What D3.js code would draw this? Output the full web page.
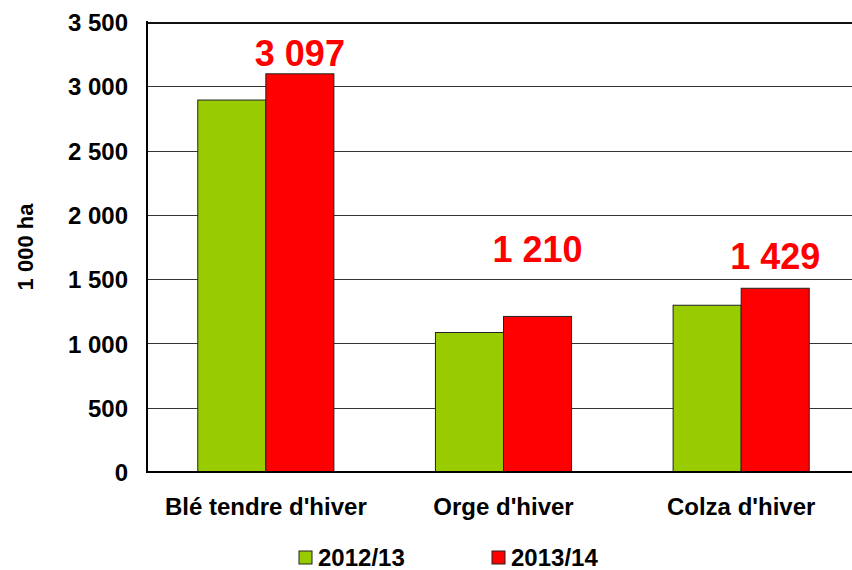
<!DOCTYPE html>
<html>
<head>
<meta charset="utf-8">
<title>Surfaces 2012/13 - 2013/14</title>
<script src="https://d3js.org/d3.v7.min.js"></script>
<style>
    body { margin: 0; background: #fff; }
    svg { font-family: Arial, "Liberation Sans", sans-serif; font-weight: bold; }
    .grid line { stroke: #333; stroke-width: 1; shape-rendering: crispEdges; }
    .bar { stroke: #222; stroke-width: 1; }
</style>
</head>
<body>
<script>
    // data
    var categories = ["Blé tendre d'hiver", "Orge d'hiver", "Colza d'hiver"];
    var seriesNames = ["2012/13", "2013/14"];
    var values2012 = [2893, 1085, 1297];
    var values2013 = [3097, 1210, 1429];
    var yTicks = [0, 500, 1000, 1500, 2000, 2500, 3000, 3500];
    var seriesColors = ["#99CC00", "#FF0000"];
    // how far (px) each value label sits above its bar, as placed in the original
    var labelLift = [8, 54, 19];

    var W = 852, H = 570;
    var margin = { top: 22, left: 147 };
    var plotRight = 860, plotBottom = 472;

    var fr = d3.formatLocale({ decimal: ",", thousands: " ", grouping: [3], currency: ["", " €"] });
    var fmt = fr.format(",d");

    var svg = d3.select("body").append("svg")
        .attr("width", W)
        .attr("height", H);

    var y = d3.scaleLinear().domain([0, 3500]).range([plotBottom, margin.top]);
    var x0 = d3.scaleBand().domain(categories).range([margin.left, plotRight]).padding(0);
    var x1 = d3.scaleBand().domain(seriesNames).range([0, x0.bandwidth()])
        .paddingInner(0).paddingOuter(0.746);

    // gridlines
    svg.append("g").attr("class", "grid")
        .selectAll("line")
        .data(yTicks.filter(function(d) { return d > 0; }))
        .enter().append("line")
        .attr("x1", margin.left).attr("x2", plotRight)
        .attr("y1", function(d) { return Math.round(y(d)) + 0.5; })
        .attr("y2", function(d) { return Math.round(y(d)) + 0.5; })
        .style("stroke", function(d) { return d === 3500 ? "#111" : "#333"; })
        .style("stroke-width", function(d) { return d === 3500 ? 2 : 1; });

    // bars
    var rows = categories.map(function(c, i) {
        return { cat: c, vals: [values2012[i], values2013[i]] };
    });

    var groups = svg.selectAll(".cat")
        .data(rows)
        .enter().append("g")
        .attr("class", "cat")
        .attr("transform", function(d) { return "translate(" + x0(d.cat) + ",0)"; });

    groups.selectAll("rect")
        .data(function(d) { return d.vals.map(function(v, j) { return { s: seriesNames[j], v: v, j: j }; }); })
        .enter().append("rect")
        .attr("class", "bar")
        .attr("x", function(d) { return x1(d.s); })
        .attr("width", x1.bandwidth())
        .attr("y", function(d) { return y(d.v); })
        .attr("height", function(d) { return plotBottom - y(d.v); })
        .style("fill", function(d) { return seriesColors[d.j]; });

    // value labels on 2013/14 bars
    svg.selectAll(".vlabel")
        .data(values2013)
        .enter().append("text")
        .attr("class", "vlabel")
        .attr("x", function(d, i) { return x0(categories[i]) + x1(seriesNames[1]) + x1.bandwidth() / 2; })
        .attr("y", function(d, i) { return y(d) - labelLift[i]; })
        .attr("text-anchor", "middle")
        .style("fill", "#FF0000")
        .style("font-size", "36px")
        .text(function(d) { return fmt(d); });

    // y axis
    var yAxis = d3.axisLeft(y).tickValues(yTicks).tickSize(0).tickPadding(19).tickFormat(fmt);
    var gy = svg.append("g")
        .attr("transform", "translate(" + margin.left + ",0)")
        .call(yAxis);
    gy.select(".domain").remove();
    gy.selectAll("text")
        .style("font-size", "24px")
        .style("font-family", "Arial, 'Liberation Sans', sans-serif")
        .style("font-weight", "bold")
        .style("fill", "#000")
        .attr("dy", "0.36em");

    // axis lines
    svg.append("line")
        .attr("x1", margin.left).attr("x2", margin.left)
        .attr("y1", margin.top - 1).attr("y2", plotBottom + 1)
        .style("stroke", "#000").style("stroke-width", 2);
    svg.append("line")
        .attr("x1", margin.left - 1).attr("x2", plotRight)
        .attr("y1", plotBottom).attr("y2", plotBottom)
        .style("stroke", "#000").style("stroke-width", 2);

    // x axis labels
    var xAxis = d3.axisBottom(x0).tickSize(0).tickPadding(26);
    var gx = svg.append("g")
        .attr("transform", "translate(0," + plotBottom + ")")
        .call(xAxis);
    gx.select(".domain").remove();
    gx.selectAll("text")
        .style("font-size", "24px")
        .style("font-family", "Arial, 'Liberation Sans', sans-serif")
        .style("font-weight", "bold")
        .style("fill", "#000");

    // y title
    svg.append("text")
        .attr("transform", "translate(33," + ((margin.top + plotBottom) / 2) + ") rotate(-90)")
        .attr("text-anchor", "middle")
        .style("font-size", "22px")
        .text("1 000 ha");

    // legend
    var legendX = [299, 492];
    var legend = svg.selectAll(".leg")
        .data(seriesNames)
        .enter().append("g")
        .attr("class", "leg")
        .attr("transform", function(d, i) { return "translate(" + legendX[i] + ",551)"; });
    legend.append("rect")
        .attr("width", 13).attr("height", 13)
        .style("fill", function(d, i) { return seriesColors[i]; })
        .style("stroke", "#222").style("stroke-width", 1);
    legend.append("text")
        .attr("x", 19).attr("y", 15)
        .style("font-size", "24px")
        .text(function(d) { return d; });
</script>
</body>
</html>
